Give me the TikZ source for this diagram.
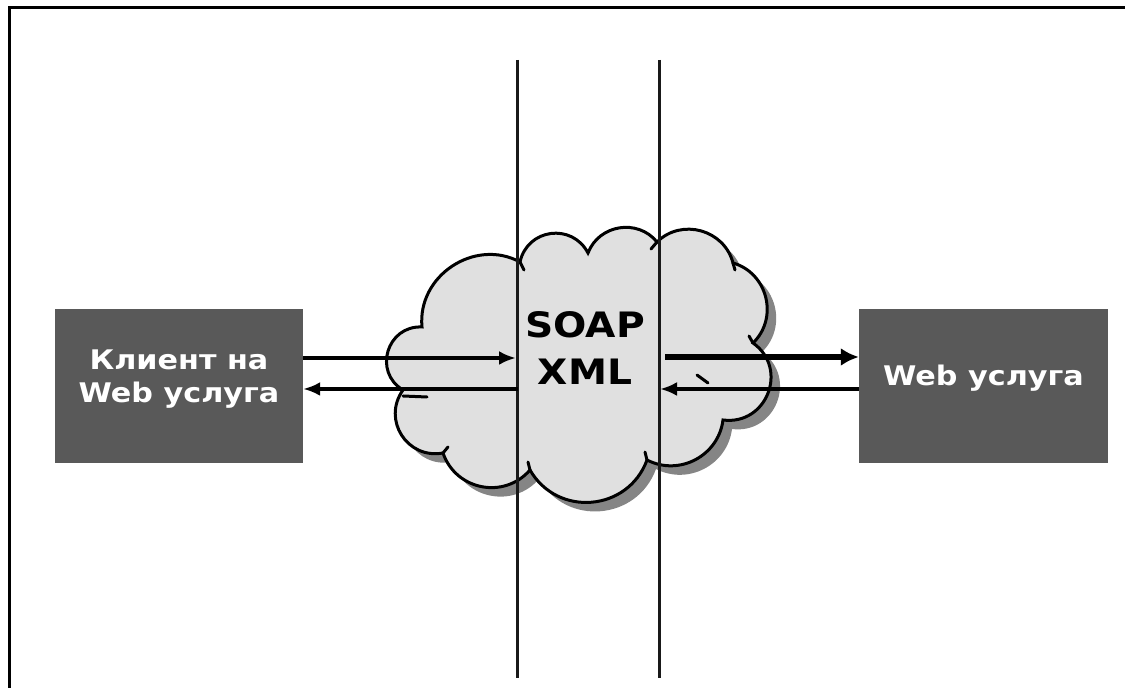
\documentclass[tikz,border=0pt]{standalone}
\usepackage{fontspec}
\newfontfamily\vb[FakeStretch=1.12]{DejaVu Sans}
\usetikzlibrary{arrows.meta}
\def\cloudpath{(403,298) to[bend left=76,looseness=1.37] (422,361) to[bend left=62,looseness=1.12] (520,426) to[bend left=70,looseness=1.28] (588,435) to[bend left=60,looseness=1.12] (657,446) to[bend left=60,looseness=1.12] (733,425) to[bend left=60,looseness=1.12] (753,345) to[bend left=76,looseness=1.37] (723,268) to[bend left=55,looseness=1.08] (647,228) to[bend left=65,looseness=1.2] (530,218) to[bend left=60,looseness=1.14] (443,235) to[bend left=68,looseness=1.25] (403,298) -- cycle}
\tikzset{
  box/.style={fill=black!65, draw=none, minimum width=248pt, minimum height=154pt, inner sep=0pt,
    text=white, font=\vb\bfseries\fontsize{27}{33}\selectfont, align=center},
  vline/.style={line width=3pt, black!90},
  arr/.style={line width=3.5pt, -{Latex[length=17pt,width=14pt]}},
  thickarr/.style={line width=5.5pt, -{Latex[length=18pt,width=18pt]}},
  cloudline/.style={line width=3pt, line cap=round},
}
\begin{document}
\begin{tikzpicture}[x=1pt,y=1pt]
\useasboundingbox (0,0) rectangle (1125,688);
% frame
\draw[line width=3pt] (9,0) -- (9,680) -- (1125,680);
% cloud
\fill[black!48, shift={(9,-9)}] \cloudpath;
\fill[black!12] \cloudpath;
\draw[cloudline] \cloudpath;
% tails and interior strokes
\draw[cloudline] (520,426) -- (524,418);
\draw[cloudline] (657,446) -- (651,439);
\draw[cloudline] (733,425) -- (735,418);
\draw[cloudline] (753,345) -- (749,352);
\draw[cloudline] (647,228) -- (645,236);
\draw[cloudline] (530,218) -- (528,226);
\draw[cloudline] (443,235) -- (448,241);
\draw[cloudline] (697,313) -- (708,305);
\draw[cloudline] (403,292) -- (427,291);
% text
\node[font=\vb\bfseries\fontsize{35}{47}\selectfont, align=center, inner sep=0pt] (soap) at (585,339.5) {SOAP\\XML};
% vertical lines
\coordinate (l1t) at (517,628);
\coordinate (l1b) at (517,10);
\coordinate (l2t) at (659,628);
\coordinate (l2b) at (659,10);
\draw[vline] (l1t) -- (l1b);
\draw[vline] (l2t) -- (l2b);
% boxes
\node[box, text depth=19.5pt] (client) at (179,302) {Клиент на\\Web услуга};
\node[box, minimum width=249pt, text depth=22.5pt] (service) at (983.5,302) {Web услуга};
% arrow anchors
\coordinate (a1) at (516,330);
\coordinate (a2) at (518,299);
\coordinate (a3) at (665,331);
\coordinate (a4) at (660,299);
\draw[arr] (client.east |- a1) -- (a1);
\draw[arr] (a2) -- (client.east |- a2);
\draw[thickarr] (a3) -- (service.west |- a3);
\draw[arr] (service.west |- a4) -- (a4);
\end{tikzpicture}
\end{document}
